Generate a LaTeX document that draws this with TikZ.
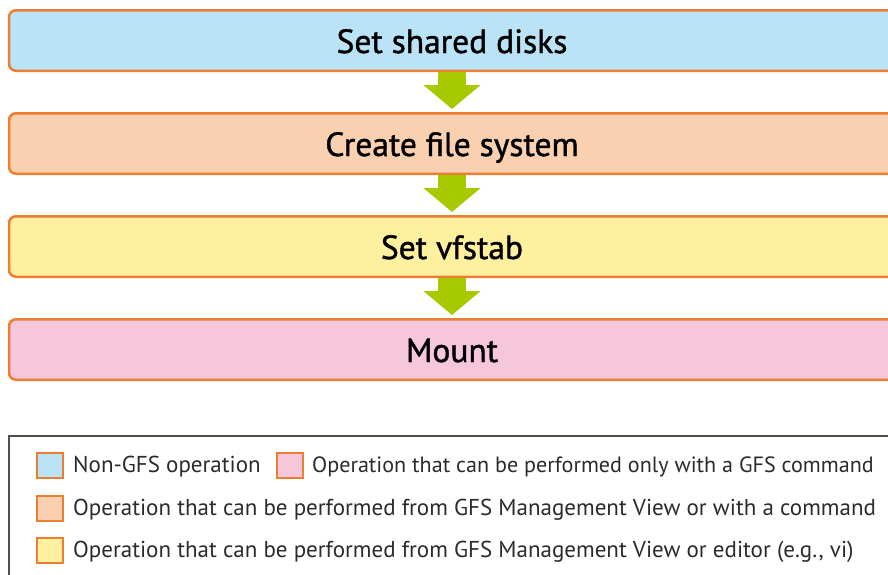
\documentclass[tikz,border=0pt]{standalone}
\usepackage{fontspec}
\setmainfont{PT Sans}
\newfontfamily\stepfont[FakeBold=1.2]{PT Sans}
\usetikzlibrary{arrows.meta,positioning}
\definecolor{edge}{HTML}{ED7D31}
\definecolor{bluelite}{HTML}{BAE3F7}
\definecolor{peach}{HTML}{F9D0B0}
\definecolor{yellowlite}{HTML}{FEF09E}
\definecolor{pinklite}{HTML}{F6C6DB}
\definecolor{green}{HTML}{A6C900}
\definecolor{frame}{HTML}{4F4F47}
\definecolor{ink}{HTML}{2B2B2B}

\begin{document}
\begin{tikzpicture}[x=1pt,y=-1pt,>=Latex,
    stepbox/.style={draw=edge,line width=2.5pt,rounded corners=7pt,minimum width=886pt,
      minimum height=60.5pt,text height=25pt,text depth=0pt,font=\stepfont\fontsize{33.5}{40}\selectfont},
    flow/.style={draw=green,line width=28pt,-{Triangle[width=56pt,length=24pt]},shorten >=3pt},
    swatch/.style={draw=edge,line width=2pt,minimum width=26pt,minimum height=25pt,inner sep=0pt},
    keytext/.style={inner sep=0pt,text=ink,text height=18pt,text depth=4pt,font=\fontsize{23}{26}\selectfont}]
  \useasboundingbox (0,0) rectangle (888,574);
  \clip (0,0) rectangle (888,574);
  % steps
  \node[stepbox,fill=bluelite] (disks) at (452,40.5) {Set shared disks};
  \node[stepbox,fill=peach,below=40pt of disks] (mkfs) {Create file system};
  \node[stepbox,fill=yellowlite,below=40pt of mkfs] (vfstab) {Set vfstab};
  \node[stepbox,fill=pinklite,below=40pt of vfstab] (mount) {Mount};
  \foreach \a/\b in {disks/mkfs,mkfs/vfstab,vfstab/mount}
    \draw[flow] (\a) -- (\b);
  % legend
  \node[draw=frame,line width=1.8pt,inner sep=0pt,anchor=north west,minimum width=900pt,
    minimum height=170pt] (legend) at (7.9,434.9) {};
  \node[swatch,fill=bluelite] (keyblue) at (50,465.5) {};
  \node[keytext,right=9pt of keyblue] (txtblue) {Non-GFS operation};
  \node[swatch,fill=pinklite] (keypink) at (290,465.5) {};
  \node[keytext,font=\fontsize{22.1}{26}\selectfont,right=8pt of keypink] (txtpink) {Operation that can be performed only with a GFS command};
  \node[swatch,fill=peach] (keypeach) at (50,508) {};
  \node[keytext,right=9pt of keypeach] (txtpeach) {Operation that can be performed from GFS Management View or with a command};
  \node[swatch,fill=yellowlite] (keyyellow) at (50,550) {};
  \node[keytext,right=9pt of keyyellow] (txtyellow) {Operation that can be performed from GFS Management View or editor (e.g., vi)};
\end{tikzpicture}
\end{document}
